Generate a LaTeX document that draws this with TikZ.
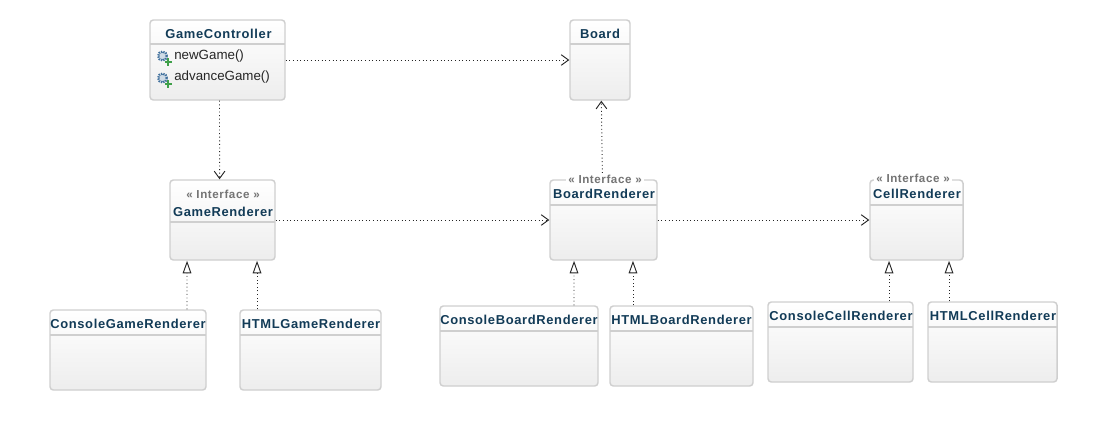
\documentclass[tikz,border=0pt]{standalone}
\usepackage{xcolor}
\usepackage{fontspec}
\usetikzlibrary{arrows.meta, positioning}
\setmainfont{Liberation Sans}
\newfontfamily\titlefont[LetterSpace=5]{Liberation Sans}
\definecolor{titleblue}{HTML}{123B57}
\definecolor{boxline}{HTML}{CFCFCF}
\definecolor{stereogray}{HTML}{747474}
\definecolor{gearblue}{HTML}{3F6F9C}
\definecolor{plusgreen}{HTML}{3FA04A}
\tikzset{
  umlbox/.style={draw=boxline, line width=1.1pt, rounded corners=2.5pt, inner sep=0pt,
    top color=white, bottom color=black!7, minimum height=60pt},
  boxw/.style={minimum width=#1*0.75pt},
  divider/.style={draw=boxline, line width=1pt},
  classname/.style={font=\titlefont\bfseries\fontsize{9.7}{11}\selectfont, text=titleblue, inner sep=0pt},
  stereo/.style={font=\titlefont\bfseries\fontsize{8.7}{10}\selectfont, text=stereogray, inner sep=1.5pt},
  method/.style={font=\fontsize{10}{12}\selectfont, text=black!85, inner sep=0pt, anchor=west},
  dep/.style={dotted, line width=0.7pt, black!85, -{Straight Barb[length=5.5pt,width=8pt]}},
  impl/.style={dotted, line width=0.7pt, black!85, -{Triangle[open, length=9.5pt, width=6.5pt, fill=white]}},
  gearicon/.style={draw=gearblue, line width=1.7pt, dash pattern=on 1pt off 0.75pt, fill=gearblue!25},
  plusicon/.style={draw=plusgreen, line width=1.2pt}
}
\begin{document}
\begin{tikzpicture}[x=0.75pt, y=-0.75pt]
  \useasboundingbox (0,0) rectangle (1112,440);

  % Classes, top row
  \node[umlbox, boxw=135] (GameController) at (217.5,60) {};
  \node[umlbox, boxw=60] (Board) at (600,60) {};
  \draw[divider] (150,44) -- (285,44);
  \draw[divider] (570,44) -- (630,44);
  \node[classname] (GameControllerName) at (218.5,33.5) {GameController};
  \node[classname] (BoardName) at (600,33.5) {Board};

  % Operations
  \node[method] (newGame) at (174,56.5) {newGame()};
  \node[method] (advanceGame) at (174,77.5) {advanceGame()};
  \draw[gearicon] (162.5,56) circle (4.4);
  \draw[gearicon] (162.5,78) circle (4.4);
  \draw[plusicon] (164.5,62) -- (172,62) (168.2,58.2) -- (168.2,65.8);
  \draw[plusicon] (164.5,84) -- (172,84) (168.2,80.2) -- (168.2,87.8);

  % Interfaces
  \node[umlbox, boxw=105] (GameRenderer) at (222.5,220) {};
  \node[umlbox, boxw=107] (BoardRenderer) at (603.5,220) {};
  \node[umlbox, boxw=93] (CellRenderer) at (916.5,220) {};
  \draw[divider] (170,222) -- (275,222);
  \draw[divider] (550,205) -- (657,205);
  \draw[divider] (870,205) -- (963,205);
  \node[stereo] (GameRendererStereo) at (223,194.5) {« Interface »};
  \node[stereo, fill=white] (BoardRendererStereo) at (605,179.5) {« Interface »};
  \node[stereo, fill=white] (CellRendererStereo) at (913,178.5) {« Interface »};
  \node[classname] (GameRendererName) at (223,211.5) {GameRenderer};
  \node[classname] (BoardRendererName) at (604,193.5) {BoardRenderer};
  \node[classname] (CellRendererName) at (917,193.5) {CellRenderer};

  % Implementations
  \node[umlbox, boxw=156] (ConsoleGameRenderer) at (128,350) {};
  \node[umlbox, boxw=141] (HTMLGameRenderer) at (310.5,350) {};
  \node[umlbox, boxw=158] (ConsoleBoardRenderer) at (519,346) {};
  \node[umlbox, boxw=143] (HTMLBoardRenderer) at (681.5,346) {};
  \node[umlbox, boxw=145] (ConsoleCellRenderer) at (840.5,342) {};
  \node[umlbox, boxw=129] (HTMLCellRenderer) at (992.5,342) {};
  \draw[divider] (50,335) -- (206,335);
  \draw[divider] (240,335) -- (381,335);
  \draw[divider] (440,331) -- (598,331);
  \draw[divider] (610,331) -- (753,331);
  \draw[divider] (768,327) -- (913,327);
  \draw[divider] (928,327) -- (1057,327);
  \node[classname] (ConsoleGameRendererName) at (128,323.5) {ConsoleGameRenderer};
  \node[classname] (HTMLGameRendererName) at (311,323.5) {HTMLGameRenderer};
  \node[classname] (ConsoleBoardRendererName) at (519,319.5) {ConsoleBoardRenderer};
  \node[classname] (HTMLBoardRendererName) at (681.5,319.5) {HTMLBoardRenderer};
  \node[classname] (ConsoleCellRendererName) at (841,315.5) {ConsoleCellRenderer};
  \node[classname] (HTMLCellRendererName) at (993,315.5) {HTMLCellRenderer};

  % Dependencies
  \draw[dep] (GameController) -- (Board);
  \draw[dep] ([xshift=1.5pt]GameController.south) -- ([xshift=-2.2pt]GameRenderer.north);
  \draw[dep] (GameRenderer) -- (BoardRenderer);
  \draw[dep] (BoardRenderer) -- (CellRenderer);
  \draw[dep] ([xshift=-2pt]BoardRendererStereo.north) -- ([xshift=1pt]Board.south);

  % Realizations
  \draw[impl] ([xshift=44.25pt]ConsoleGameRenderer.north) -- ([xshift=-26.6pt]GameRenderer.south);
  \draw[impl] ([xshift=-40.1pt]HTMLGameRenderer.north) -- ([xshift=25.9pt]GameRenderer.south);
  \draw[impl] ([xshift=41.25pt]ConsoleBoardRenderer.north) -- ([xshift=-22.1pt]BoardRenderer.south);
  \draw[impl] ([xshift=-36.4pt]HTMLBoardRenderer.north) -- ([xshift=22.1pt]BoardRenderer.south);
  \draw[impl] ([xshift=36.4pt]ConsoleCellRenderer.north) -- ([xshift=-20.6pt]CellRenderer.south);
  \draw[impl] ([xshift=-32.6pt]HTMLCellRenderer.north) -- ([xshift=24.4pt]CellRenderer.south);
\end{tikzpicture}
\end{document}
